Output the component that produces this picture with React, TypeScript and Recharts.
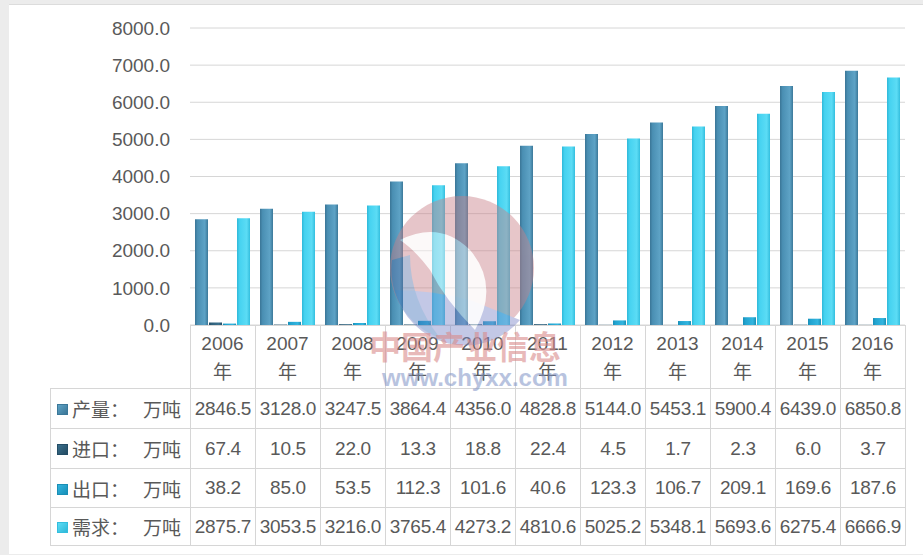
import { BarChart, Bar, XAxis, YAxis, CartesianGrid } from 'recharts';

const years = ['2006', '2007', '2008', '2009', '2010', '2011', '2012', '2013', '2014', '2015', '2016'];
const output = [2846.5, 3128.0, 3247.5, 3864.4, 4356.0, 4828.8, 5144.0, 5453.1, 5900.4, 6439.0, 6850.8];
const imports = [67.4, 10.5, 22.0, 13.3, 18.8, 22.4, 4.5, 1.7, 2.3, 6.0, 3.7];
const exportsQty = [38.2, 85.0, 53.5, 112.3, 101.6, 40.6, 123.3, 106.7, 209.1, 169.6, 187.6];
const demand = [2875.7, 3053.5, 3216.0, 3765.4, 4273.2, 4810.6, 5025.2, 5348.1, 5693.6, 6275.4, 6666.9];
const yTicks = [0, 1000, 2000, 3000, 4000, 5000, 6000, 7000, 8000];
const unit = '万吨';

const series = [
  { key: 'output', name: '产量', values: output, stops: ['#3a7596', '#4a8fb3', '#5ea3c6', '#3b7899'] },
  { key: 'imports', name: '进口', values: imports, stops: ['#234b63', '#2e5f7a', '#3a6f8c', '#244d66'] },
  { key: 'exports', name: '出口', values: exportsQty, stops: ['#178fb8', '#22a4d0', '#33b5df', '#1a8fb6'] },
  { key: 'demand', name: '需求', values: demand, stops: ['#2fb8d8', '#45d2f0', '#5cdcf5', '#33bede'] },
];

const data = years.map((year, i) => {
  const row: Record<string, string | number> = { year };
  series.forEach((s) => (row[s.key] = s.values[i]));
  return row;
});

const FONT = '"Liberation Sans", "Noto Sans CJK SC", sans-serif';
const TEXT = '#595959';
const LINE = '#d6d6d6';
const rowHeights = [40, 40, 39, 38];

function YearTick(props: any) {
  const { x, y, payload } = props;
  return (
    <g>
      <text x={x} y={y + 18} textAnchor="middle" dominantBaseline="central" fill={TEXT} fontSize={19} fontFamily={FONT}>
        {payload.value}
      </text>
      <text x={x} y={y + 47} textAnchor="middle" dominantBaseline="central" fill={TEXT} fontSize={19} fontFamily={FONT}>
        年
      </text>
    </g>
  );
}

function Key({ stops }: { stops: string[] }) {
  return (
    <span
      style={{
        display: 'inline-block',
        width: 9,
        height: 9,
        marginRight: 4,
        verticalAlign: 'middle',
        border: `1px solid ${stops[3]}`,
        background: `linear-gradient(135deg, ${stops[2]}, ${stops[0]})`,
        position: 'relative',
        top: -2,
      }}
    />
  );
}

export default function App() {
  const cell: React.CSSProperties = {
    border: `1px solid ${LINE}`,
    textAlign: 'center',
    padding: 0,
    color: TEXT,
    fontSize: 19,
    whiteSpace: 'nowrap',
    overflow: 'visible',
    letterSpacing: -0.3,
  };
  return (
    <div style={{ position: 'absolute', left: 0, top: 0, width: 923, height: 555, background: '#ececec', fontFamily: FONT }}>
      <div style={{ position: 'absolute', left: 9, top: 4, width: 914, height: 549, background: '#fff', borderTop: '1px solid #dcdcdc' }} />
      <div style={{ position: 'absolute', left: 0, top: 0 }}>
        <BarChart
          width={923}
          height={555}
          data={data}
          margin={{ top: 28, right: 18, left: 0, bottom: 167 }}
          barGap={1}
          barCategoryGap={5}
        >
          <defs>
            {series.map((s) => (
              <linearGradient key={s.key} id={`g-${s.key}`} x1="0" y1="0" x2="1" y2="0">
                <stop offset="0%" stopColor={s.stops[0]} />
                <stop offset="20%" stopColor={s.stops[1]} />
                <stop offset="75%" stopColor={s.stops[2]} />
                <stop offset="100%" stopColor={s.stops[3]} />
              </linearGradient>
            ))}
          </defs>
          <CartesianGrid vertical={false} stroke={LINE} strokeWidth={1} />
          <XAxis dataKey="year" axisLine={false} tickLine={false} tickSize={0} tickMargin={0} height={63} interval={0} tick={<YearTick />} />
          <YAxis
            domain={[0, 8000]}
            ticks={yTicks}
            width={190}
            axisLine={false}
            tickLine={false}
            tickSize={0}
            tickMargin={20}
            tickFormatter={(v: number) => v.toFixed(1)}
            tick={{ fill: TEXT, fontSize: 19, fontFamily: FONT }}
          />
          {series.map((s) => (
            <Bar key={s.key} dataKey={s.key} name={s.name} fill={`url(#g-${s.key})`} isAnimationActive={false} />
          ))}
        </BarChart>
      </div>
      <table
        style={{
          position: 'absolute',
          left: 50,
          top: 325,
          width: 855,
          borderCollapse: 'collapse',
          tableLayout: 'fixed',
          fontFamily: FONT,
        }}
      >
        <colgroup>
          <col style={{ width: 140 }} />
          {years.map((y) => (
            <col key={y} style={{ width: 65 }} />
          ))}
        </colgroup>
        <tbody>
          <tr style={{ height: 63 }}>
            <td style={{ padding: 0, border: 'none' }} />
            {years.map((y) => (
              <td key={y} style={{ ...cell, borderBottom: 'none' }} />
            ))}
          </tr>
          {series.map((s, r) => (
            <tr key={s.key} style={{ height: rowHeights[r] }}>
              <td style={{ ...cell, textAlign: 'left', paddingLeft: 6, letterSpacing: 0 }}>
                <Key stops={s.stops} />
                <span>{s.name}：</span>
                <span style={{ marginLeft: 14 }}>{unit}</span>
              </td>
              {s.values.map((v, i) => (
                <td key={i} style={cell}>
                  {v.toFixed(1)}
                </td>
              ))}
            </tr>
          ))}
        </tbody>
      </table>
      <svg width={923} height={555} style={{ position: 'absolute', left: 0, top: 0, pointerEvents: 'none' }}>
        <g opacity={0.45}>
          <circle cx={462} cy={268} r={72} fill="#c98088" />
          <path d="M 395 290 A 72 72 0 0 0 520 320 L 470 300 Q 430 290 395 290 Z" fill="#7b86c8" />
          <path d="M 400 240 Q 440 220 470 250 Q 500 285 475 330 Q 445 300 430 270 Q 415 250 400 240 Z" fill="#ffffff" opacity={0.9} />
          <path d="M 392 260 A 72 72 0 0 0 440 338 Q 410 300 410 255 Z" fill="#2d6fb5" opacity={0.7} />
        </g>
        <text x={465} y={345} textAnchor="middle" dominantBaseline="central" fontSize={32} fontWeight="bold" fill="#d98c8c" opacity={0.6} fontFamily='"Noto Sans CJK SC", sans-serif'>
          中国产业信息
        </text>
        <text x={475} y={377} textAnchor="middle" dominantBaseline="central" fontSize={24} fontWeight="bold" fill="#7f93c6" opacity={0.55} fontFamily={FONT}>
          www.chyxx.com
        </text>
      </svg>
    </div>
  );
}
